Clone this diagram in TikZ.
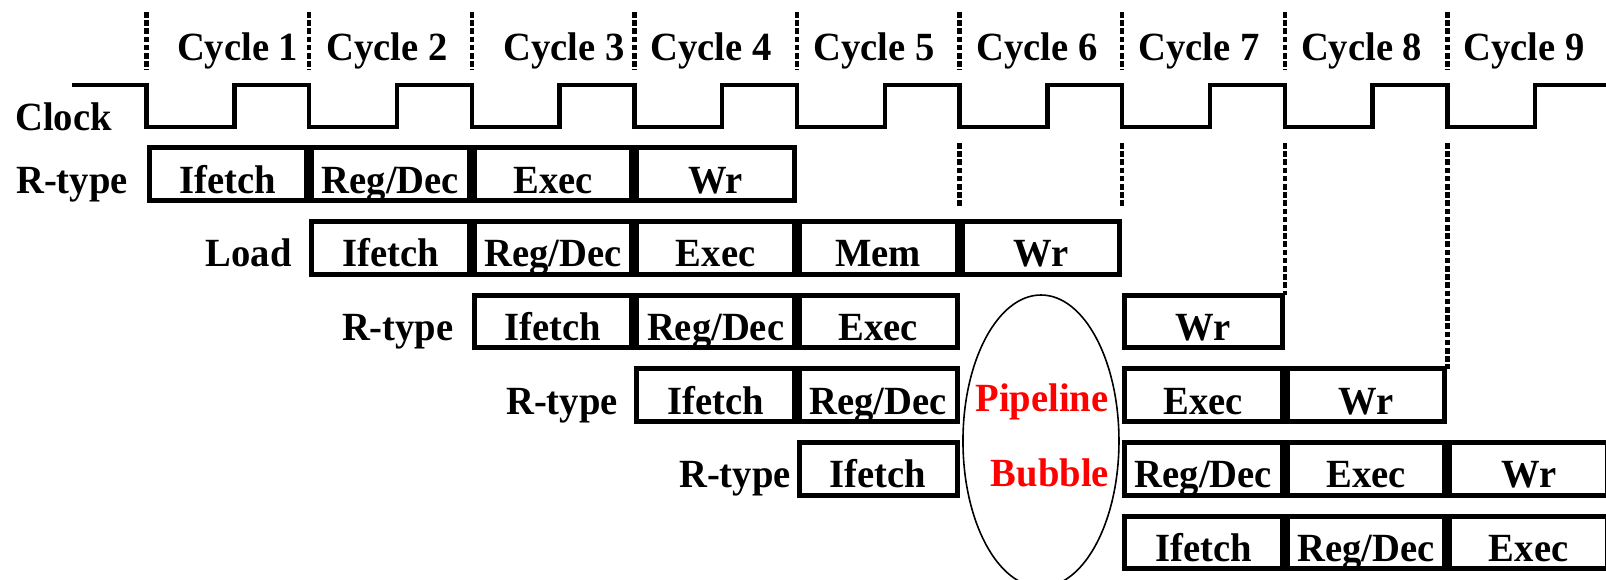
\documentclass[tikz,border=0pt]{standalone}
\usepackage{fontspec}
\setmainfont{Liberation Serif}[FakeStretch=0.965]
\usepackage{tikz}
\usetikzlibrary{shapes.geometric, positioning}
\tikzstyle{stage} = [draw, line width=2.5pt, minimum width=78.8pt, minimum height=26.3pt, inner sep=0pt, outer sep=0pt, text height=19pt, text depth=0pt]
\tikzstyle{guide} = [line width=2.2pt, dash pattern=on 2.8pt off 1.3pt]
\tikzstyle{wave} = [line width=2.2pt, line join=miter]
\tikzstyle{tag} = [inner sep=0pt]

\begin{document}
\begin{tikzpicture}[x=81.3pt, y=-0.5pt, font=\fontsize{20pt}{24pt}\selectfont\bfseries]
    \useasboundingbox (-0.901,0) rectangle (8.976,579);

    % Cycle boundaries
    \foreach \k in {0,...,8} {
        \draw[guide] (\k,12) -- (\k,70);
    }

    % Cycle labels
    \foreach \c/\dx in {1/0.06, 2/-0.02, 3/0.068, 4/-0.027, 5/-0.025, 6/-0.025, 7/-0.027, 8/-0.027, 9/-0.03} {
        \node[tag, anchor=base] (cyc\c) at (\c-0.5+\dx, 60) {Cycle \c};
    }

    % Clock
    \node[tag, anchor=base west] (clk) at (-0.809,130) {Clock};
    \draw[wave] (-0.458,85)
        \foreach \k in {0,...,8} { -- (\k,85) -- (\k,127) -- (\k+0.541,127) -- (\k+0.541,85) }
        -- (9.05,85);

    % Pipeline stages
    \foreach \r/\k/\txt in {0/0/Ifetch, 0/1/{Reg/Dec}, 0/2/Exec, 0/3/Wr,
                            1/1/Ifetch, 1/2/{Reg/Dec}, 1/3/Exec, 1/4/Mem, 1/5/Wr,
                            2/2/Ifetch, 2/3/{Reg/Dec}, 2/4/Exec, 2/6/Wr,
                            3/3/Ifetch, 3/4/{Reg/Dec}, 3/6/Exec, 3/7/Wr,
                            4/4/Ifetch, 4/6/{Reg/Dec}, 4/7/Exec, 4/8/Wr,
                            5/6/Ifetch, 5/7/{Reg/Dec}, 5/8/Exec} {
        \node[stage] (box-\r-\k) at (\k+0.5, 174+73.7*\r) {\txt};
    }

    % Instruction labels
    \foreach \r/\x/\txt in {0/-0.113/R-type, 1/0.895/Load, 2/1.891/R-type, 3/2.900/R-type, 4/3.964/R-type} {
        \node[tag, anchor=base east] (ins\r) at (\x, 193+73.7*\r) {\txt};
    }

    % Stall guides
    \coordinate (g5) at (5,143);
    \coordinate (g6) at (6,143);
    \coordinate (g7) at (7,143);
    \coordinate (g8) at (8,143);
    \draw[guide] (g5) -- (5,206);
    \draw[guide] (g6) -- (6,206);
    \draw[guide] (g7) -- (g7 |- box-2-6.north);
    \draw[guide] (g8) -- (g8 |- box-3-7.north);

    % Bubble
    \node[ellipse, draw, line width=0.8pt, minimum width=78pt, minimum height=146pt, inner sep=0pt] (bubble) at (5.501,441) {};
    \node[tag, anchor=base, red] (pipe) at (5.507,411) {Pipeline};
    \node[tag, anchor=base, red] (bub) at (5.556,486) {Bubble};
\end{tikzpicture}
\end{document}
